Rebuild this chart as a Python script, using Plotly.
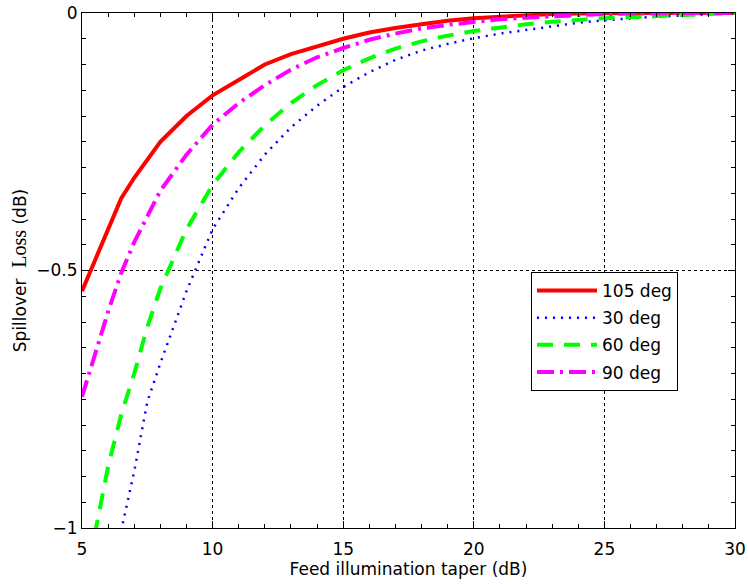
import plotly.graph_objects as go

taper_db = [5, 5.5, 6, 6.5, 7, 7.5, 8, 9, 10, 11, 12, 13, 14, 15, 16, 17, 18, 19, 20,
            21, 22, 23, 24, 25, 26, 27, 28, 29, 30]

loss_105 = [-0.54, -0.48, -0.42, -0.36, -0.32, -0.285, -0.25, -0.20, -0.16, -0.13, -0.10,
            -0.08, -0.065, -0.05, -0.038, -0.029, -0.022, -0.015, -0.01, -0.007, -0.004,
            -0.002, -0.001, 0, 0, 0, 0, 0, 0]
loss_30 = [-1.45, -1.28, -1.13, -1.005, -0.89, -0.755, -0.68, -0.54, -0.42, -0.34, -0.275,
           -0.222, -0.18, -0.144, -0.115, -0.091, -0.073, -0.06, -0.049, -0.04, -0.033,
           -0.026, -0.019, -0.014, -0.01, -0.007, -0.005, -0.002, 0]
loss_60 = [-1.17, -1.01, -0.88, -0.78, -0.70, -0.61, -0.535, -0.42, -0.334, -0.27, -0.218,
           -0.175, -0.14, -0.111, -0.088, -0.069, -0.055, -0.044, -0.035, -0.028, -0.022,
           -0.017, -0.013, -0.01, -0.008, -0.006, -0.004, -0.002, 0]
loss_90 = [-0.745, -0.66, -0.58, -0.505, -0.445, -0.395, -0.345, -0.275, -0.217, -0.175,
           -0.14, -0.11, -0.086, -0.068, -0.052, -0.04, -0.03, -0.023, -0.017, -0.012,
           -0.009, -0.006, -0.004, -0.002, -0.001, 0, 0, 0, 0]

series_names = ["105 deg", "30 deg", "60 deg", "90 deg"]
x_ticks = [5, 10, 15, 20, 25, 30]
y_ticks = [-1, -0.5, 0]
y_tick_labels = ["\u22121", "\u22120.5", "0"]

FONT = "DejaVu Sans"

fig = go.Figure()
fig.add_trace(go.Scatter(x=taper_db, y=loss_105, mode="lines", name=series_names[0],
                         legendgroup="a",
                         line=dict(color="#ff0000", width=4)))
fig.add_trace(go.Scatter(x=taper_db, y=loss_30, mode="lines", name=series_names[1],
                         legendgroup="b",
                         line=dict(color="#0000ff", width=2.5, dash="2px,6px")))
fig.add_trace(go.Scatter(x=taper_db, y=loss_60, mode="lines", name=series_names[2],
                         legendgroup="c",
                         line=dict(color="#00ff00", width=4, dash="16px,11px")))
fig.add_trace(go.Scatter(x=taper_db, y=loss_90, mode="lines", name=series_names[3],
                         legendgroup="d",
                         line=dict(color="#ff00ff", width=4, dash="17px,6px,3px,6px")))

axis_common = dict(
    showline=True, linecolor="black", linewidth=1, mirror="ticks",
    ticks="inside", ticklen=7, tickcolor="black", tickwidth=1,
    showgrid=True, gridcolor="black", gridwidth=1, griddash="dot",
    zeroline=False, automargin=False,
    tickfont=dict(family=FONT, size=17, color="black"),
)

fig.update_xaxes(
    range=[5, 30], tickvals=x_ticks, ticktext=[str(v) for v in x_ticks],
    ticklabelstandoff=6,
    minor=dict(dtick=1, tick0=5, ticks="inside", ticklen=4, tickcolor="black", showgrid=False),
    title=dict(text="Feed illumination taper (dB)", font=dict(family=FONT, size=17, color="black"),
               standoff=2),
    **axis_common,
)
fig.update_yaxes(
    range=[-1, 0], tickvals=y_ticks, ticktext=y_tick_labels,
    minor=dict(dtick=0.05, tick0=0, ticks="inside", ticklen=4, tickcolor="black", showgrid=False),
    title=dict(text="Spillover  <span style='font-family:Liberation Serif;font-size:20px'>Loss</span> (dB)",
               font=dict(family=FONT, size=17, color="black"), standoff=5),
    **axis_common,
)

fig.update_layout(
    width=748, height=585,
    margin=dict(l=82, r=13, t=13, b=57),
    paper_bgcolor="white", plot_bgcolor="white",
    showlegend=True,
    legend=dict(
        x=0.6876, y=0.497, xanchor="left", yanchor="top",
        bgcolor="white", bordercolor="black", borderwidth=1,
        font=dict(family=FONT, size=17, color="black"),
        itemwidth=60, tracegroupgap=2,
    ),
)

fig.write_html("out.html")
